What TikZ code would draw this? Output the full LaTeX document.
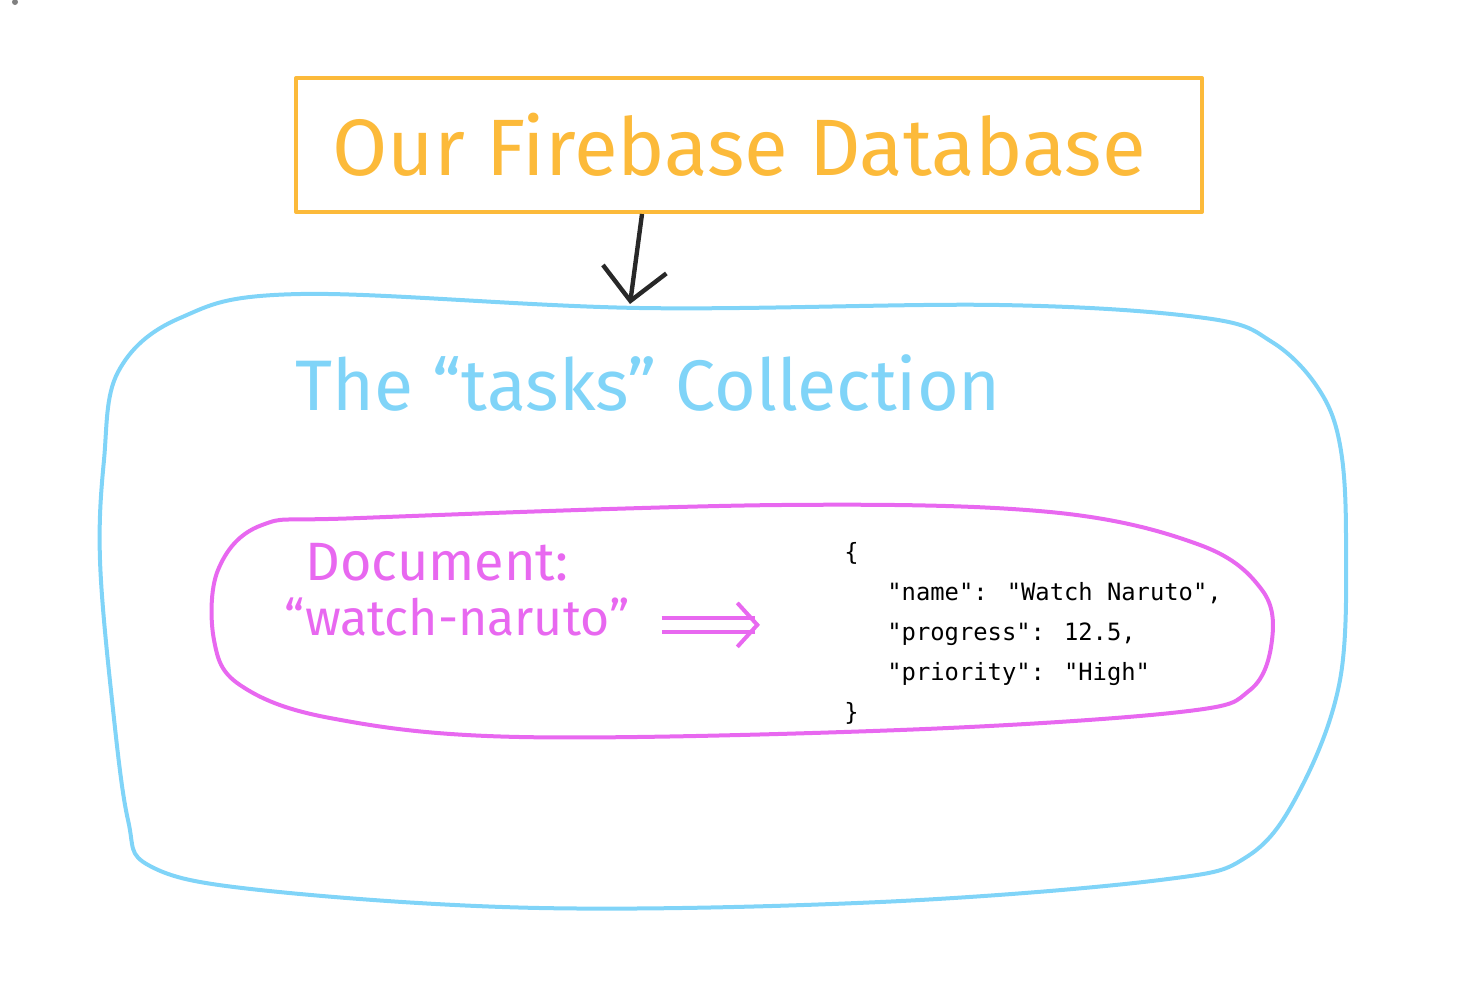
\documentclass[tikz,border=0pt]{standalone}
\usepackage{fontspec}
\setmainfont{Fira Sans}
\newfontfamily\jsonfont{DejaVu Sans Mono}
\usetikzlibrary{positioning,arrows.meta}
\definecolor{dborange}{RGB}{252,186,58}
\definecolor{collblue}{RGB}{128,212,248}
\definecolor{docpink}{RGB}{232,104,240}
\definecolor{penblack}{RGB}{40,40,40}

\begin{document}
\begin{tikzpicture}[x=0.5pt,y=-0.5pt,
        pen/.style={line width=2pt, line cap=round, line join=round},
        hand/.style={inner sep=3pt, font=\fontsize{#1}{#1}\selectfont}]
    \useasboundingbox (0,0) rectangle (1462,998);
    \fill[gray] (15,2) circle (1.5pt);
    % database box
    \node[draw=dborange, pen, text=dborange, hand=40, minimum width=453pt, minimum height=67pt] (db) at (749,145) {\hspace*{-10pt}Our Firebase Database};
    % collection and document outlines
    \draw[collblue, pen] plot[smooth cycle, tension=0.6] coordinates {(300,294) (180,318) (118,372) (104,460) (100,560) (112,700) (128,820) (150,866) (260,890) (540,908) (880,902) (1160,880) (1248,856) (1300,790) (1340,680) (1346,540) (1340,445) (1318,388) (1272,342) (1205,318) (1000,305) (640,308)};
    \coordinate (colltop) at (630,304);
    \draw[docpink, pen] plot[smooth cycle, tension=0.6] coordinates {(360,518) (262,525) (218,570) (214,640) (240,685) (330,718) (520,737) (900,730) (1180,712) (1250,690) (1272,640) (1262,590) (1200,545) (1050,512) (780,505)};
    \node[text=collblue, hand=35.8] (tasks) at (648,383) {The “tasks” Collection};
    \node[text=docpink, hand=27] (doc) at (437,562) {Document:};
    \node[text=docpink, hand=25, below=2pt of doc.south, anchor=north, xshift=10pt] (docname) {“watch-naruto”};
    \node[anchor=north west, inner sep=0pt, align=left, font=\fontsize{11.9}{20}\selectfont\jsonfont] (json) at (844,542) {\{\\
        \hphantom{xxx}"name": "Watch Naruto",\\
        \hphantom{xxx}"progress": 12.5,\\
        \hphantom{xxx}"priority": "High"\\
        \}};
    % connectors
    \draw[penblack, line width=2.2pt, -{Straight Barb[length=16pt,width=32pt]}] ([xshift=6pt]db.south -| colltop) -- (colltop);
    \draw[docpink, line width=2pt, double distance=5pt, shorten <=13pt, shorten >=42pt,
        -{Straight Barb[length=10pt,width=22pt,line width=2pt]}] ([yshift=-4pt]docname.east) -- ([yshift=-4pt]docname.east -| json.west);
\end{tikzpicture}
\end{document}
